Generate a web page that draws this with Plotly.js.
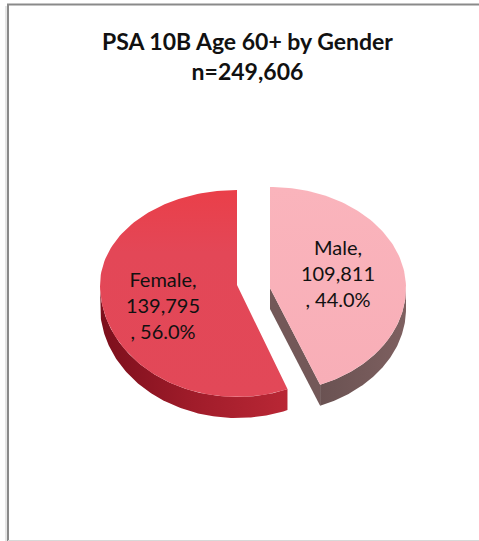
<!DOCTYPE html>
<html><head><meta charset="utf-8">
<script src="https://cdn.plot.ly/plotly-3.0.1.min.js"></script>
<style>html,body{margin:0;padding:0;background:#fff}#c{width:479px;height:541px}</style>
</head><body><div id="c"></div>
<script>
const categories = ['Female', 'Male'];
const values = [139795, 109811];
const labelLines = [['Female,', '139,795', ', 56.0%'], ['Male,', '109,811', ', 44.0%']];
const titleLines = ['PSA 10B Age 60+ by Gender', 'n=249,606'];
const topColors = ['#e24757', '#f9b1b9'];
const topScales = [
  [[0, '#e24858'], [0.7, '#e34757'], [1, '#ea3f49']],
  [[0, '#f8aeb7'], [1, '#fab4bc']]
];
const sideScales = [
  [[0, '#b92735'], [0.5, '#a01c2a'], [1, '#7c0f1c']],
  [[0, '#6a5252'], [1, '#7e6060']]
];
const cutColor = '#735858';

const total = values.reduce((a, b) => a + b, 0);
const maleSweep = 2 * Math.PI * values[1] / total;
// each exploded slice: centre, radii, angular span (clockwise from 12 o'clock)
const geom = [
  {cx: 237, cy: 285, rx: 137, up: 95, down: 112, from: maleSweep, to: 2 * Math.PI, lx: 163, ly: 308},
  {cx: 270, cy: 288, rx: 136, up: 101, down: 104, from: 0, to: maleSweep, lx: 338, ly: 276}
];
const depth = 21;

function pt(g, a) {
  const c = Math.cos(a);
  return [g.cx + g.rx * Math.sin(a), g.cy - (c > 0 ? g.up : g.down) * c];
}
function arc(g, a0, a1, dy) {
  const out = [];
  const n = 120;
  for (let i = 0; i <= n; i++) {
    const p = pt(g, a0 + (a1 - a0) * i / n);
    out.push([p[0], p[1] + dy]);
  }
  return out;
}
function poly(points, extra) {
  return Object.assign({
    type: 'scatter', mode: 'lines', x: points.map(p => p[0]), y: points.map(p => p[1]),
    fill: 'toself', line: {width: 0}, hoverinfo: 'skip', showlegend: false
  }, extra);
}

const traces = [];
geom.forEach((g, i) => {
  // outer visible rim
  const a0 = Math.max(g.from, Math.PI / 2);
  const a1 = Math.min(g.to, 3 * Math.PI / 2);
  const rim = arc(g, a0, a1, 0).concat(arc(g, a1, a0, depth));
  traces.push(poly(rim, {name: categories[i] + ' side', fillcolor: '#888',
    fillgradient: {type: 'horizontal', colorscale: i === 0 ? sideScales[0].map(s => [1 - s[0], s[1]]).reverse() : sideScales[1]}}));
  if (i === 1) {
    const tip = pt(g, g.to);
    traces.push(poly([[g.cx, g.cy], tip, [tip[0], tip[1] + depth], [g.cx, g.cy + depth]],
      {name: categories[i] + ' cut', fillcolor: cutColor}));
  }
  // top face
  const top = [[g.cx, g.cy]].concat(arc(g, g.from, g.to, 0));
  top.push([g.cx, g.cy]);
  traces.push(poly(top, {name: categories[i], fillcolor: topColors[i],
    fillgradient: {type: 'vertical', colorscale: topScales[i]}}));
});
// slice labels
traces.push({
  type: 'scatter', mode: 'text',
  x: geom.map(g => g.lx), y: geom.map(g => g.ly),
  text: labelLines.map(l => l.join('<br>')),
  textposition: 'middle center',
  textfont: {family: 'Lato, Carlito, sans-serif', size: 20, color: '#111'},
  hoverinfo: 'skip', showlegend: false
});

const layout = {
  width: 479, height: 541,
  margin: {l: 0, r: 0, t: 0, b: 0},
  paper_bgcolor: '#fff', plot_bgcolor: '#fff',
  showlegend: false,
  xaxis: {range: [0, 479], visible: false, fixedrange: true},
  yaxis: {range: [541, 0], visible: false, fixedrange: true},
  annotations: [{
    xref: 'x', yref: 'y', x: 247.5, y: 56, xanchor: 'center', yanchor: 'middle',
    showarrow: false, align: 'center',
    text: titleLines.join('<br>'),
    font: {family: 'Lato, Carlito, sans-serif', size: 23, color: '#111', weight: 700}
  }],
  shapes: [
    {type: 'line', xref: 'x', yref: 'y', x0: 6, x1: 6, y0: 6, y1: 541, line: {color: '#e6e6e6', width: 2}},
    {type: 'line', xref: 'x', yref: 'y', x0: 8, x1: 8, y0: 4, y1: 541, line: {color: '#8a8a8a', width: 2}},
    {type: 'line', xref: 'x', yref: 'y', x0: 7, x1: 479, y0: 4.5, y1: 4.5, line: {color: '#8a8a8a', width: 2}},
    {type: 'line', xref: 'x', yref: 'y', x0: 8, x1: 479, y0: 540.5, y1: 540.5, line: {color: '#d8d8d8', width: 1}}
  ]
};
Plotly.newPlot('c', traces, layout, {staticPlot: true, displayModeBar: false});
</script></body></html>
